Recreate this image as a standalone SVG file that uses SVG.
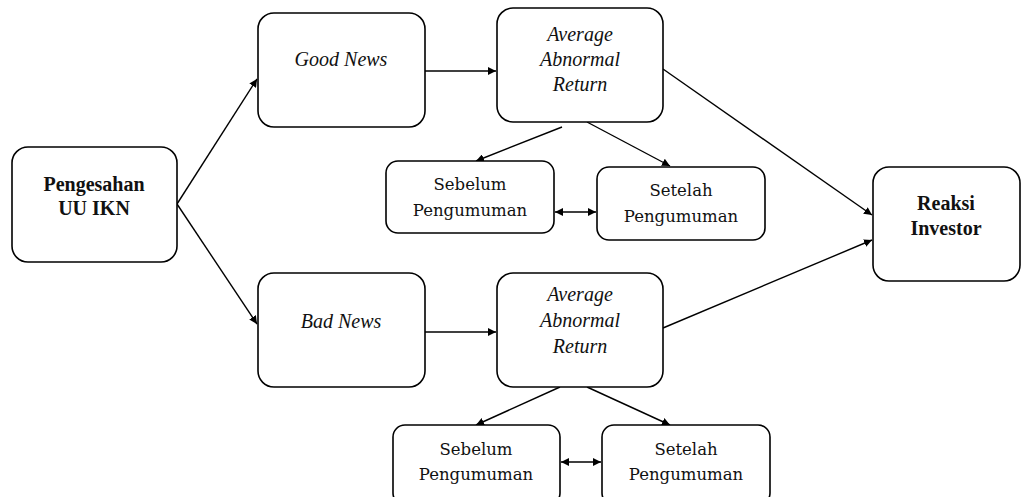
<svg xmlns="http://www.w3.org/2000/svg" width="1030" height="497" viewBox="0 0 1030 497">
<style>
.box{fill:#fff;stroke:#000;stroke-width:1.6}
.b{font-family:"Liberation Serif",serif;font-weight:bold;font-size:20px;text-anchor:middle;fill:#111}
.i{font-family:"Liberation Serif",serif;font-style:italic;font-size:20px;text-anchor:middle;fill:#111}
.s{font-family:"DejaVu Serif",serif;font-size:16.5px;text-anchor:middle;fill:#111}
.c{stroke:#000;stroke-width:1.4;fill:none}
</style>
<defs>
<marker id="ah" viewBox="0 0 10 10" refX="10" refY="5" markerWidth="8" markerHeight="8" markerUnits="userSpaceOnUse" orient="auto-start-reverse">
<path d="M0,0 L10,5 L0,10 z" fill="#000"/>
</marker>
</defs>
<g id="connectors">
<line class="c" x1="177" y1="204" x2="257" y2="79" marker-end="url(#ah)"/>
<line class="c" x1="177" y1="204" x2="257" y2="324" marker-end="url(#ah)"/>
<line class="c" x1="425" y1="71" x2="496" y2="71" marker-end="url(#ah)"/>
<line class="c" x1="425" y1="332" x2="496" y2="332" marker-end="url(#ah)"/>
<line class="c" x1="562" y1="127" x2="476" y2="161" marker-end="url(#ah)"/>
<line class="c" x1="587" y1="122" x2="670" y2="166" marker-end="url(#ah)"/>
<line class="c" x1="555" y1="212" x2="596" y2="212" marker-start="url(#ah)" marker-end="url(#ah)"/>
<line class="c" x1="560" y1="387" x2="476" y2="425" marker-end="url(#ah)"/>
<line class="c" x1="587" y1="387" x2="670" y2="425" marker-end="url(#ah)"/>
<line class="c" x1="561" y1="462" x2="601" y2="462" marker-start="url(#ah)" marker-end="url(#ah)"/>
<line class="c" x1="663" y1="69" x2="872" y2="215" marker-end="url(#ah)"/>
<line class="c" x1="663" y1="328" x2="872" y2="240" marker-end="url(#ah)"/>
</g>
<g id="pengesahan">
<rect class="box" x="12" y="147" width="165" height="115" rx="16"/>
<text class="b" x="94" y="191">Pengesahan</text>
<text class="b" x="94" y="215">UU IKN</text>
</g>
<g id="good-news">
<rect class="box" x="258" y="13" width="167" height="114" rx="16"/>
<text class="i" x="341" y="66">Good News</text>
</g>
<g id="aar-good">
<rect class="box" x="497" y="8" width="166" height="114" rx="16"/>
<text class="i" x="580" y="41">Average</text>
<text class="i" x="580" y="66">Abnormal</text>
<text class="i" x="580" y="91">Return</text>
</g>
<g id="sebelum-good">
<rect class="box" x="386" y="161" width="168" height="72" rx="12"/>
<text class="s" x="470" y="190">Sebelum</text>
<text class="s" x="470" y="216">Pengumuman</text>
</g>
<g id="setelah-good">
<rect class="box" x="597" y="167" width="168" height="73" rx="12"/>
<text class="s" x="681" y="196">Setelah</text>
<text class="s" x="681" y="222">Pengumuman</text>
</g>
<g id="bad-news">
<rect class="box" x="258" y="273" width="167" height="114" rx="16"/>
<text class="i" x="341" y="328">Bad News</text>
</g>
<g id="aar-bad">
<rect class="box" x="497" y="273" width="166" height="114" rx="16"/>
<text class="i" x="580" y="301">Average</text>
<text class="i" x="580" y="327">Abnormal</text>
<text class="i" x="580" y="353">Return</text>
</g>
<g id="sebelum-bad">
<rect class="box" x="393" y="425" width="167" height="80" rx="12"/>
<text class="s" x="476" y="455">Sebelum</text>
<text class="s" x="476" y="480">Pengumuman</text>
</g>
<g id="setelah-bad">
<rect class="box" x="602" y="425" width="168" height="80" rx="12"/>
<text class="s" x="686" y="455">Setelah</text>
<text class="s" x="686" y="480">Pengumuman</text>
</g>
<g id="reaksi">
<rect class="box" x="873" y="167" width="147" height="114" rx="16"/>
<text class="b" x="946" y="210">Reaksi</text>
<text class="b" x="946" y="235">Investor</text>
</g>
</svg>
